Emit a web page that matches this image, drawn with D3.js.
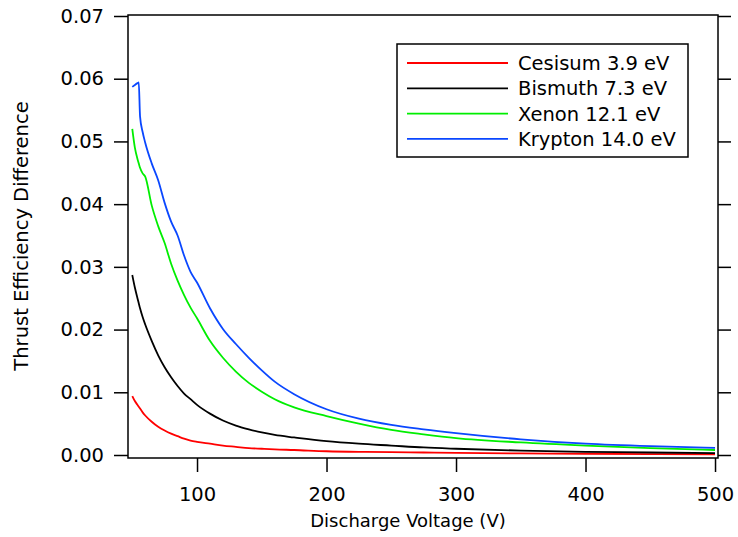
<!DOCTYPE html>
<html>
<head>
<meta charset="utf-8">
<script src="https://cdn.jsdelivr.net/npm/d3@7"></script>
<style>
  body { margin: 0; background: #fff; }
  text { font-family: "DejaVu Sans", sans-serif; fill: #000; }
</style>
</head>
<body>
<svg id="chart" width="738" height="537"></svg>
<script>
// voltages (V) shared by every series
const voltage = [50, 52, 54, 55, 56, 58, 60, 65, 70, 75, 80, 85, 90, 95, 100, 110, 120, 130, 140, 150, 160, 175, 200, 225, 250, 275, 300, 350, 400, 450, 500];

// thrust efficiency difference
const cesium  = [0.0094, 0.0086, 0.0080, 0.0077, 0.0074, 0.0068, 0.0063, 0.0053, 0.0045, 0.0039, 0.0034, 0.0030, 0.0026, 0.0023, 0.0021, 0.0018, 0.0015, 0.0013, 0.0011, 0.0010, 0.0009, 0.0008, 0.0006, 0.0005, 0.00045, 0.0004, 0.00033, 0.00026, 0.0002, 0.00015, 0.00012];
const bismuth = [0.0287, 0.0267, 0.0250, 0.0242, 0.0234, 0.0220, 0.0208, 0.0182, 0.0159, 0.0140, 0.0124, 0.0110, 0.0098, 0.0089, 0.0080, 0.0066, 0.0055, 0.0047, 0.0041, 0.0036, 0.0032, 0.0028, 0.0022, 0.0018, 0.0015, 0.0012, 0.0010, 0.0007, 0.0005, 0.0004, 0.0003];
const xenon   = [0.0520, 0.0490, 0.0472, 0.0465, 0.0458, 0.0449, 0.0444, 0.0398, 0.0365, 0.0338, 0.0305, 0.0278, 0.0255, 0.0235, 0.0218, 0.0182, 0.0155, 0.0133, 0.0115, 0.0101, 0.0089, 0.0076, 0.0062, 0.0050, 0.0040, 0.0033, 0.0027, 0.0020, 0.0015, 0.0011, 0.0008];
const krypton = [0.0587, 0.0590, 0.0593, 0.0594, 0.0540, 0.0515, 0.0498, 0.0465, 0.0438, 0.0402, 0.0372, 0.0350, 0.0318, 0.0292, 0.0275, 0.0234, 0.0201, 0.0177, 0.0155, 0.0135, 0.0117, 0.0097, 0.0073, 0.0058, 0.0048, 0.0041, 0.0035, 0.0025, 0.0018, 0.0014, 0.00115];

const names  = ["Cesisum 3.9 eV", "Bismuth 7.3 eV", "Xenon 12.1 eV", "Krypton 14.0 eV"];
const colors = ["#ff0000", "#000000", "#00ee00", "#0a47ff"];
const series = [cesium, bismuth, xenon, krypton];

const xTicks = [100, 200, 300, 400, 500];
const yTicks = [0, 0.01, 0.02, 0.03, 0.04, 0.05, 0.06, 0.07];

const svg = d3.select("#chart");

const plotL = 128, plotR = 718, plotT = 15, plotB = 458;

const x = d3.scaleLinear().domain([46.7, 502.3]).range([plotL, plotR]);
const y = d3.scaleLinear().domain([0, 0.07]).range([455, 16]);

// frame
svg.append("rect")
  .attr("x", plotL).attr("y", plotT)
  .attr("width", plotR - plotL).attr("height", plotB - plotT)
  .attr("fill", "none").attr("stroke", "#000").attr("stroke-width", 1.5);

// left axis
const yAxis = svg.append("g")
  .attr("transform", `translate(${plotL},0)`)
  .call(d3.axisLeft(y).tickValues(yTicks).tickFormat(d3.format(".2f")).tickSize(14).tickPadding(10));
yAxis.select(".domain").remove();
yAxis.selectAll("line").attr("stroke-width", 1.5);
yAxis.selectAll("text").style("font-size", "19.5px").style("font-family", "DejaVu Sans");

// right mirror ticks
const yAxisR = svg.append("g")
  .attr("transform", `translate(${plotR},0)`)
  .call(d3.axisRight(y).tickValues(yTicks).tickFormat("").tickSize(13));
yAxisR.select(".domain").remove();
yAxisR.selectAll("line").attr("stroke-width", 1.5);

// bottom axis
const xAxis = svg.append("g")
  .attr("transform", `translate(0,${plotB})`)
  .call(d3.axisBottom(x).tickValues(xTicks).tickFormat(d3.format("d")).tickSize(14).tickPadding(15));
xAxis.select(".domain").remove();
xAxis.selectAll("line").attr("stroke-width", 1.5);
xAxis.selectAll("text").style("font-size", "19.5px").style("font-family", "DejaVu Sans");

// axis titles
svg.append("text")
  .attr("x", 408).attr("y", 527)
  .attr("text-anchor", "middle")
  .style("font-size", "18px")
  .text("Discharge Voltage (V)");

svg.append("text")
  .attr("transform", "translate(27.5,236) rotate(-90)")
  .attr("text-anchor", "middle")
  .style("font-size", "19.5px")
  .text("Thrust Efficiency Difference");

// curves
const line = d3.line()
  .x((d, i) => x(voltage[i]))
  .y(d => y(d))
  .curve(d3.curveMonotoneX);

series.forEach((s, k) => {
  svg.append("path")
    .datum(s)
    .attr("d", line)
    .attr("fill", "none")
    .attr("stroke", colors[k])
    .attr("stroke-width", 1.8);
});

// legend
const lg = svg.append("g");
lg.append("rect")
  .attr("x", 397).attr("y", 44)
  .attr("width", 291).attr("height", 113)
  .attr("fill", "#fff").attr("stroke", "#000").attr("stroke-width", 1.5);

names.forEach((n, k) => {
  const cy = 63 + k * 25.3;
  lg.append("line")
    .attr("x1", 407).attr("x2", 508)
    .attr("y1", cy).attr("y2", cy)
    .attr("stroke", colors[k]).attr("stroke-width", 1.8);
  lg.append("text")
    .attr("x", 518).attr("y", cy)
    .attr("dy", "0.36em")
    .style("font-size", "19.5px")
    .text(n);
});
</script>
</body>
</html>
